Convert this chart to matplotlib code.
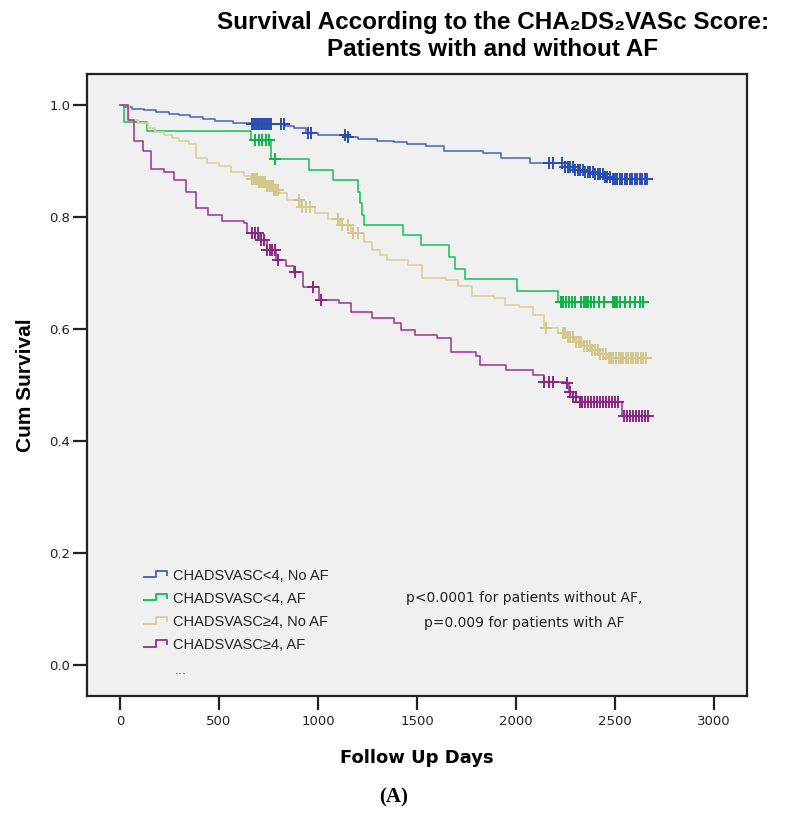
import matplotlib
matplotlib.use("Agg")
import numpy as np
import matplotlib.pyplot as plt
from matplotlib.lines import Line2D
from matplotlib.legend_handler import HandlerBase

# Kaplan-Meier steps (days, cumulative survival)
blue_t = [0, 20, 60, 121, 180, 247, 300, 354, 420, 480, 570, 662, 833, 879, 940, 1000,
          1146, 1202, 1300, 1384, 1450, 1545, 1636, 1833, 1924, 2070, 2247, 2300, 2350,
          2400, 2450, 2485, 2662]
blue_s = [1.0, 0.996, 0.993, 0.990, 0.987, 0.984, 0.981, 0.978, 0.975, 0.971, 0.968,
          0.965, 0.962, 0.958, 0.950, 0.946, 0.943, 0.939, 0.936, 0.933, 0.930, 0.927,
          0.917, 0.914, 0.905, 0.897, 0.889, 0.884, 0.880, 0.876, 0.872, 0.868, 0.868]
blue_cens = [665, 672, 680, 688, 695, 702, 710, 718, 725, 732, 740, 748, 755, 762,
             815, 830, 950, 965, 1135, 1150, 2165, 2185, 2230,
             2250, 2262, 2275, 2288, 2300, 2312, 2325, 2338, 2350, 2362, 2375, 2388,
             2400, 2412, 2425, 2438, 2450, 2462, 2475, 2488, 2500, 2512, 2525, 2538,
             2550, 2562, 2575, 2588, 2600, 2612, 2625, 2638, 2650, 2660]

green_t = [0, 20, 136, 662, 760, 955, 1076, 1202, 1212, 1220, 1230, 1429, 1520, 1662,
           1692, 1742, 2005, 2212, 2640]
green_s = [1.0, 0.970, 0.954, 0.9375, 0.903, 0.884, 0.866, 0.845, 0.825, 0.804, 0.786,
           0.768, 0.749, 0.729, 0.707, 0.689, 0.668, 0.648, 0.648]
green_cens = [680, 700, 715, 735, 750, 785,
              2225, 2240, 2255, 2270, 2285, 2300, 2330, 2345, 2355, 2365, 2380, 2395,
              2420, 2445, 2490, 2500, 2510, 2525, 2550, 2575, 2600, 2625, 2640]

tan_t = [0, 46, 90, 141, 176, 222, 263, 300, 346, 383, 440, 500, 560, 626, 662, 700,
         740, 780, 803, 843, 914, 985, 1050, 1111, 1167, 1230, 1273, 1311, 1348, 1455,
         1525, 1646, 1707, 1778, 1889, 1944, 2015, 2086, 2141, 2212, 2260, 2300, 2340,
         2380, 2420, 2465, 2662]
tan_s = [1.0, 0.973, 0.968, 0.958, 0.952, 0.946, 0.940, 0.936, 0.930, 0.905, 0.897,
         0.890, 0.881, 0.873, 0.868, 0.862, 0.855, 0.848, 0.843, 0.830, 0.818, 0.807,
         0.797, 0.786, 0.771, 0.755, 0.741, 0.732, 0.723, 0.714, 0.691, 0.688, 0.676,
         0.658, 0.655, 0.643, 0.640, 0.625, 0.602, 0.593, 0.585, 0.577, 0.570, 0.563,
         0.556, 0.548, 0.548]
tan_cens = [665, 672, 680, 687, 694, 700, 707, 714, 720, 727, 734, 740, 747, 754, 760,
            767, 774, 780, 787, 794, 800, 905, 920, 940, 960, 1100, 1120, 1150, 1175,
            1200, 2150,
            2235, 2250, 2262, 2275, 2290, 2305, 2318, 2330, 2345, 2360, 2372, 2385,
            2400, 2412, 2425, 2440, 2455, 2470, 2480, 2492, 2505, 2518, 2530, 2542,
            2555, 2568, 2580, 2592, 2605, 2618, 2630, 2642, 2655]

purple_t = [0, 40, 71, 116, 157, 222, 273, 333, 384, 444, 515, 626, 642, 700, 740, 788,
            840, 879, 924, 1005, 1104, 1167, 1273, 1384, 1419, 1490, 1601, 1672, 1798,
            1816, 1950, 2086, 2141, 2247, 2268, 2290, 2321, 2535, 2672]
purple_s = [1.0, 0.973, 0.935, 0.917, 0.886, 0.881, 0.866, 0.845, 0.816, 0.804, 0.792,
            0.789, 0.771, 0.758, 0.741, 0.723, 0.712, 0.702, 0.675, 0.652, 0.646, 0.631,
            0.619, 0.611, 0.598, 0.589, 0.584, 0.559, 0.551, 0.536, 0.527, 0.518, 0.506,
            0.503, 0.488, 0.478, 0.470, 0.445, 0.445]
purple_cens = [665, 680, 695, 710, 725, 740, 755, 770, 785, 800, 884, 977, 1015,
               2141, 2165, 2187, 2258, 2275, 2290, 2305, 2323,
               2335, 2350, 2365, 2380, 2395, 2410, 2425, 2440, 2455, 2470, 2485, 2500,
               2515, 2545, 2560, 2575, 2590, 2605, 2620, 2635, 2650, 2665]

labels = ["CHADSVASC<4, No AF", "CHADSVASC<4, AF",
          "CHADSVASC\u22654, No AF", "CHADSVASC\u22654, AF"]
line_cols = ["#4a68c0", "#17c45a", "#d9d096", "#a2379a"]
mark_cols = ["#2a4db3", "#0bb448", "#d3c88a", "#8e2486"]

x_ticks = [0, 500, 1000, 1500, 2000, 2500, 3000]
y_ticks = [0.0, 0.2, 0.4, 0.6, 0.8, 1.0]


class StepHandler(HandlerBase):
    # SPSS draws a little step as the legend key
    def create_artists(self, legend, orig_handle, xdescent, ydescent,
                       width, height, fontsize, trans):
        x0 = -xdescent
        y0 = -ydescent
        xs = [x0, x0 + 0.5 * width, x0 + 0.5 * width, x0 + 0.95 * width,
              x0 + 0.95 * width]
        ys = [y0 + 0.25 * height, y0 + 0.25 * height, y0 + 0.85 * height,
              y0 + 0.85 * height, y0 + 0.5 * height]
        ln = Line2D(xs, ys, color=orig_handle.get_color(), lw=1.4)
        ln.set_transform(trans)
        return [ln]


W, H = 788, 816
fig = plt.figure(figsize=(W / 100, H / 100), dpi=100)
fig.patch.set_facecolor("white")
ax = fig.add_axes([87 / W, 1 - 696 / H, (747 - 87) / W, (696 - 74) / H])
ax.set_facecolor("#f0f0f0")

series = [(blue_t, blue_s, blue_cens), (green_t, green_s, green_cens),
          (tan_t, tan_s, tan_cens), (purple_t, purple_s, purple_cens)]

handles = []
for (t, s, c), lab, lc, mc in zip(series, labels, line_cols, mark_cols):
    t = np.array(t)
    s = np.array(s)
    h, = ax.step(t, s, where="post", color=lc, lw=1.15, label=lab)
    handles.append(h)
    c = np.array(c)
    cy = s[np.searchsorted(t, c, side="right") - 1]
    ax.plot(c, cy, ls="none", marker="+", ms=8, mew=1.4, color=mc)

ax.set_xlim(-167, 3167)
ax.set_ylim(-0.055, 1.055)
ax.set_xticks(x_ticks)
ax.set_yticks(y_ticks)
ax.set_yticklabels(["%.1f" % v for v in y_ticks])
for lab in ax.get_xticklabels() + ax.get_yticklabels():
    lab.set_fontsize(9.5)
    lab.set_color("#222222")
ax.tick_params(direction="out", length=10, width=1.6, color="#222222")
ax.tick_params(axis="x", pad=4)
ax.tick_params(axis="y", pad=2)
for sp in ax.spines.values():
    sp.set_linewidth(1.6)
    sp.set_color("#222222")

leg = ax.legend(handles, labels, handler_map={h: StepHandler() for h in handles},
                loc="upper left", bbox_to_anchor=(144 / W, 1 - 569 / H),
                bbox_transform=fig.transFigure, frameon=False, borderpad=0,
                borderaxespad=0, handlelength=1.65, handletextpad=0.35,
                labelspacing=0.62, prop={"family": ["Liberation Sans", "DejaVu Sans"],
                                         "size": 10.5})
for txt in leg.get_texts():
    txt.set_color("#222222")
fig.text(181 / W, 1 - 670 / H, "...", ha="center", va="center", fontsize=9,
         color="#444444")

fig.text(524 / W, 1 - 598 / H, "p<0.0001 for patients without AF,", ha="center",
         va="center", fontsize=10, color="#222222")
fig.text(524 / W, 1 - 623 / H, "p=0.009 for patients with AF", ha="center",
         va="center", fontsize=10, color="#222222")

title_font = ["Liberation Sans", "DejaVu Sans"]
fig.text(493 / W, 1 - 23 / H, "Survival According to the CHA\u2082DS\u2082VASc Score:",
         ha="center", va="center", fontsize=17.5, fontweight="bold", family=title_font)
fig.text(493 / W, 1 - 50 / H, "Patients with and without AF", ha="center",
         va="center", fontsize=17.5, fontweight="bold", family=title_font)

fig.text(26 / W, 1 - 385 / H, "Cum Survival", rotation=90, ha="center", va="center",
         fontsize=15, fontweight="bold", family=title_font)
fig.text(417 / W, 1 - 758 / H, "Follow Up Days", ha="center", va="center",
         fontsize=13, fontweight="bold")
fig.text(394 / W, 1 - 797 / H, "(A)", ha="center", va="center", fontsize=15,
         fontweight="bold", family=["Liberation Serif", "DejaVu Serif"])

fig.savefig("out.png", dpi=100)
